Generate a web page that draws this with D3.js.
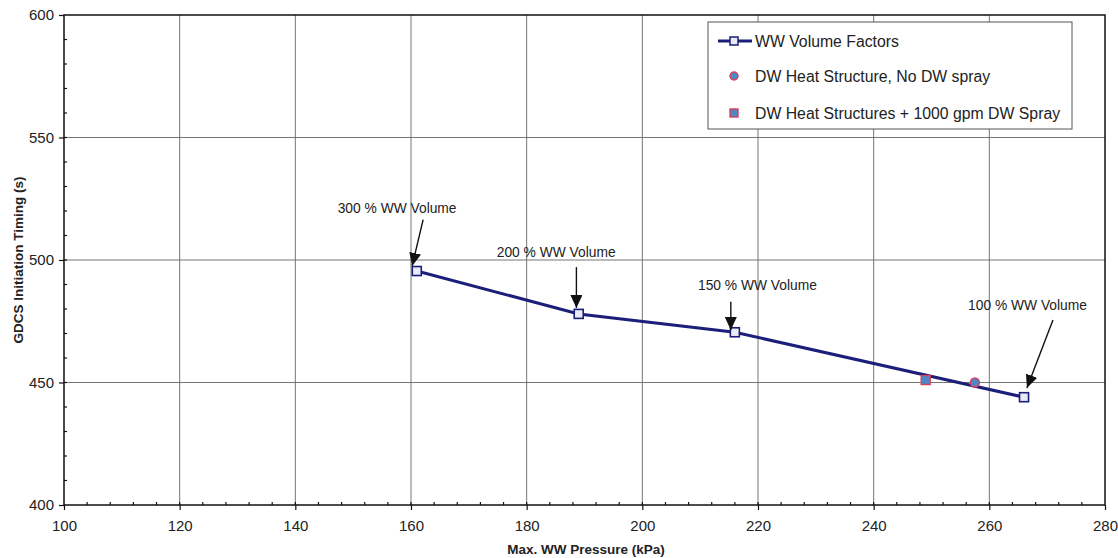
<!DOCTYPE html>
<html>
<head>
<meta charset="utf-8">
<script src="https://cdn.jsdelivr.net/npm/d3@7"></script>
<style>
  body { margin: 0; background: #fff; }
  svg text { font-family: "Liberation Sans", Arial, sans-serif; fill: #222; }
</style>
</head>
<body>
<svg id="chart" width="1118" height="558"></svg>
<script>
// WW volume sensitivity: pressure vs GDCS timing
const wwPressure = [161, 189, 216, 266];
const wwTiming = [495.5, 478, 470.5, 444];

const noSprayPressure = [257.5];
const noSprayTiming = [450];

const sprayPressure = [249];
const sprayTiming = [451];

const labelText = ["300 % WW Volume", "200 % WW Volume", "150 % WW Volume", "100 % WW Volume"];
// label anchor (data units) and arrow start/end (data units)
const labelPos = [[157.6, 519.2], [185.1, 501.2], [219.9, 487.8], [266.6, 479.6]];
const arrowFrom = [[162.1, 516.5], [188.6, 497.1], [215.3, 483], [271, 475.5]];
const arrowTo = [[160.2, 497.6], [188.6, 480.4], [215.3, 471.4], [266.5, 447.8]];

const legendLabels = ["WW Volume Factors", "DW Heat Structure, No DW spray", "DW Heat Structures + 1000 gpm DW Spray"];

const margin = { top: 15, right: 13, bottom: 53, left: 64 };
const width = 1118 - margin.left - margin.right;
const height = 558 - margin.top - margin.bottom;

const navy = "#1c1f7a";

const svg = d3.select("#chart");
const g = svg.append("g").attr("transform", `translate(${margin.left},${margin.top})`);

const x = d3.scaleLinear().domain([100, 280]).range([0, width]);
const y = d3.scaleLinear().domain([400, 600]).range([height, 0]);

// grid
g.append("g").selectAll("line").data(d3.range(120, 280, 20)).join("line")
    .attr("x1", d => x(d)).attr("x2", d => x(d))
    .attr("y1", 0).attr("y2", height)
    .attr("stroke", "#666").attr("stroke-width", 0.9);
g.append("g").selectAll("line").data(d3.range(450, 600, 50)).join("line")
    .attr("x1", 0).attr("x2", width)
    .attr("y1", d => y(d)).attr("y2", d => y(d))
    .attr("stroke", "#666").attr("stroke-width", 0.9);

// minor ticks (inside)
g.append("g").selectAll("line").data(d3.range(104, 280, 4)).join("line")
    .attr("x1", d => x(d)).attr("x2", d => x(d))
    .attr("y1", height).attr("y2", height - 3)
    .attr("stroke", "#111").attr("stroke-width", 1.2);
g.append("g").selectAll("line").data(d3.range(410, 600, 10)).join("line")
    .attr("x1", 0).attr("x2", 3)
    .attr("y1", d => y(d)).attr("y2", d => y(d))
    .attr("stroke", "#111").attr("stroke-width", 1.2);

// frame
g.append("rect").attr("width", width).attr("height", height)
    .attr("fill", "none").attr("stroke", "#111").attr("stroke-width", 1.5);

// axes
const xAxis = g.append("g").attr("transform", `translate(0,${height})`)
    .call(d3.axisBottom(x).tickValues(d3.range(100, 281, 20)).tickSize(5).tickPadding(10));
const yAxis = g.append("g")
    .call(d3.axisLeft(y).tickValues(d3.range(400, 601, 50)).tickSize(5).tickPadding(5));
[xAxis, yAxis].forEach(a => {
    a.select(".domain").remove();
    a.selectAll("line").attr("stroke", "#111").attr("stroke-width", 1.2);
    a.selectAll("text").style("font-size", "15px").attr("fill", "#222");
});

svg.append("text")
    .attr("transform", `translate(23,${margin.top + height / 2}) rotate(-90)`)
    .attr("text-anchor", "middle")
    .style("font-size", "13.5px").style("font-weight", "bold")
    .text("GDCS Initiation Timing (s)");
svg.append("text")
    .attr("x", 586).attr("y", 554)
    .attr("text-anchor", "middle")
    .style("font-size", "13.5px").style("font-weight", "bold")
    .text("Max. WW Pressure (kPa)");

// main series
const wwData = wwPressure.map((p, i) => [p, wwTiming[i]]);
g.append("path").datum(wwData)
    .attr("d", d3.line().x(d => x(d[0])).y(d => y(d[1])))
    .attr("fill", "none").attr("stroke", navy).attr("stroke-width", 3);
g.selectAll(".ww").data(wwData).join("rect")
    .attr("x", d => x(d[0]) - 4.5).attr("y", d => y(d[1]) - 4.5)
    .attr("width", 9).attr("height", 9)
    .attr("fill", "#e8eaf4").attr("stroke", navy).attr("stroke-width", 1.6);

// DW points
g.selectAll(".ns").data(noSprayPressure.map((p, i) => [p, noSprayTiming[i]])).join("circle")
    .attr("cx", d => x(d[0])).attr("cy", d => y(d[1])).attr("r", 4.5)
    .attr("fill", "#4f86c6").attr("stroke", "#d9405a").attr("stroke-width", 1.4);
g.selectAll(".sp").data(sprayPressure.map((p, i) => [p, sprayTiming[i]])).join("rect")
    .attr("x", d => x(d[0]) - 4.5).attr("y", d => y(d[1]) - 4.5)
    .attr("width", 9).attr("height", 9)
    .attr("fill", "#4f86c6").attr("stroke", "#d9405a").attr("stroke-width", 1.4);

// annotations
svg.append("defs").append("marker")
    .attr("id", "arrow").attr("viewBox", "0 0 10 10")
    .attr("refX", 10).attr("refY", 5)
    .attr("markerWidth", 13).attr("markerHeight", 12)
    .attr("markerUnits", "userSpaceOnUse")
    .attr("orient", "auto")
    .attr("preserveAspectRatio", "none")
    .append("path").attr("d", "M0,0 L10,5 L0,10 z").attr("fill", "#111");

labelText.forEach((t, i) => {
    g.append("text")
        .attr("x", x(labelPos[i][0])).attr("y", y(labelPos[i][1]))
        .attr("text-anchor", "middle")
        .style("font-size", "13.8px")
        .text(t);
    g.append("line")
        .attr("x1", x(arrowFrom[i][0])).attr("y1", y(arrowFrom[i][1]))
        .attr("x2", x(arrowTo[i][0])).attr("y2", y(arrowTo[i][1]))
        .attr("stroke", "#111").attr("stroke-width", 1.4)
        .attr("marker-end", "url(#arrow)");
});

// legend
const leg = svg.append("g").attr("transform", "translate(708,22)");
leg.append("rect").attr("width", 364).attr("height", 107)
    .attr("fill", "#fff").attr("stroke", "#555").attr("stroke-width", 1);
const rows = [19, 54, 91];
leg.append("line").attr("x1", 10).attr("x2", 44).attr("y1", rows[0]).attr("y2", rows[0])
    .attr("stroke", navy).attr("stroke-width", 3);
leg.append("rect").attr("x", 22).attr("y", rows[0] - 4).attr("width", 8).attr("height", 8)
    .attr("fill", "#e8eaf4").attr("stroke", navy).attr("stroke-width", 1.5);
leg.append("circle").attr("cx", 26).attr("cy", rows[1]).attr("r", 4)
    .attr("fill", "#4f86c6").attr("stroke", "#d9405a").attr("stroke-width", 1.4);
leg.append("rect").attr("x", 22).attr("y", rows[2] - 4).attr("width", 8).attr("height", 8)
    .attr("fill", "#4f86c6").attr("stroke", "#d9405a").attr("stroke-width", 1.4);
legendLabels.forEach((t, i) => {
    leg.append("text").attr("x", 47).attr("y", rows[i]).attr("dy", "0.35em")
        .style("font-size", "15.8px").text(t);
});
</script>
</body>
</html>
